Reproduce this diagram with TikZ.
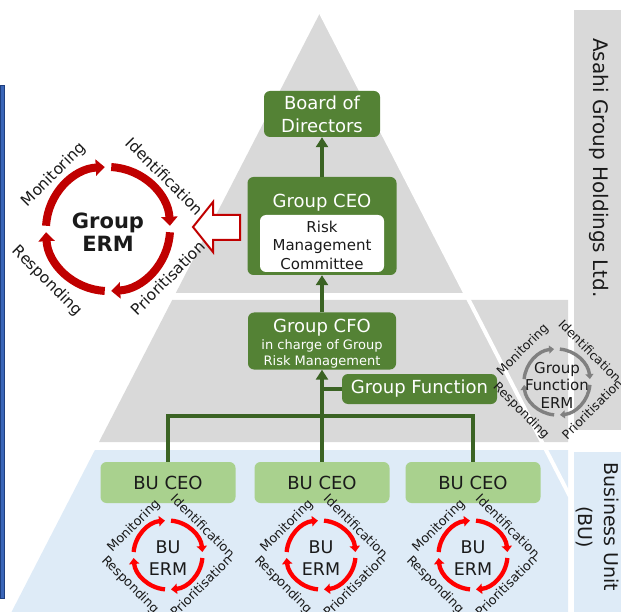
\documentclass[tikz,border=0pt]{standalone}
\usepackage{fontspec}
\setmainfont{DejaVu Sans}
\usetikzlibrary{arrows.meta}
\definecolor{dgreen}{HTML}{548235}
\definecolor{lgreen}{HTML}{A9D18E}
\definecolor{lgray}{HTML}{D9D9D9}
\definecolor{lblue}{HTML}{DEEBF7}
\definecolor{conn}{HTML}{3B6324}
\definecolor{ermred}{HTML}{C00000}
\definecolor{bured}{HTML}{FF0000}
\definecolor{fgray}{HTML}{808080}
\definecolor{edgeblue}{HTML}{1F3F7F}
\definecolor{midblue}{HTML}{3A66B8}
\definecolor{txt}{HTML}{1A1A1A}
\newcommand{\myfs}[2]{\fontsize{#1}{#2}\selectfont}
\newcommand{\ermarcs}[4]{%
  \foreach \a in {0,90,180,270}{%
    \draw[#4] #1 ++(\a+180+#3:#2) arc[start angle=\a+180+#3, end angle=\a+270-#3, radius=#2];
  }}
\begin{document}
\begin{tikzpicture}[x=1pt,y=-1pt,
  dbox/.style={fill=dgreen, rounded corners=6pt, text=white, align=center, inner sep=0pt, font=\myfs{18}{23}},
  lbox/.style={fill=lgreen, rounded corners=6pt, text=txt, align=center, inner sep=0pt, font=\myfs{18}{23}, minimum width=135pt, minimum height=41pt},
  wlab/.style={text=white, inner sep=0pt, align=center},
  connarrow/.style={draw=conn, line width=3.8pt, -{Triangle[length=10pt,width=12pt]}},
  connline/.style={draw=conn, line width=3.6pt},
  biglab/.style={text=txt, inner sep=0pt, font=\myfs{15.5}{18}},
  smalllab/.style={text=txt, inner sep=0pt, font=\myfs{12.8}{15}},
  fnlab/.style={text=txt, inner sep=0pt, font=\myfs{12.5}{15}},
  grouparc/.style={draw=ermred, line width=8pt, -{Triangle[length=9pt,width=16pt]}},
  buarc/.style={draw=bured, line width=4.3pt, -{Triangle[length=6pt,width=10pt]}},
  fnarc/.style={draw=fgray, line width=3.4pt, -{Triangle[length=5pt,width=8pt]}}
]
\useasboundingbox (0,0) rectangle (621,612);
% pyramid layers
\fill[lgray] (320.5,12) -- (465.2,293) -- (175.8,293) -- cycle;
\fill[lgray] (172.2,300) -- (568,300) -- (568,442) -- (99,442) -- cycle;
\fill[lblue] (94.9,450) -- (568,450) -- (568,612) -- (11.5,612) -- cycle;
\draw[white, line width=4pt] (320.5,12) -- (570,496.5);
% side bars
\fill[lgray] (574,10) rectangle (621,430);
\fill[lblue] (574,452) rectangle (621,612);
\node[rotate=-90, text=txt, inner sep=0pt, font=\myfs{20}{24}] (asahi) at (599,168) {Asahi Group Holdings Ltd.};
\node[rotate=-90, text=txt, inner sep=0pt, align=center, font=\myfs{19}{26}] (bulabel) at (597,527) {Business Unit\\(BU)};
% left edge bar
\draw[draw=edgeblue, fill=midblue, line width=1pt] (0.5,86) rectangle (4.5,598);
% boxes
\node[dbox, minimum width=116pt, minimum height=46pt] (board) at (322,114) {Board of\\Directors};
\node[dbox, minimum width=149pt, minimum height=98pt] (ceo) at (322,226) {};
\node[wlab, anchor=base, font=\myfs{18}{23}] (ceot) at (322,208) {Group CEO};
\node[fill=white, rounded corners=6pt, minimum width=124pt, minimum height=57pt, inner sep=0pt] (rmcbox) at (322,243.5) {};
\node[text=txt, inner sep=0pt, align=center, font=\myfs{15}{18.5}] (rmc) at (322,245) {Risk\\Management\\Committee};
\node[dbox, minimum width=148pt, minimum height=57pt] (cfo) at (322,341) {};
\node[wlab, anchor=base, font=\myfs{18}{23}] (cfot) at (322,332) {Group CFO};
\node[wlab, anchor=base, font=\myfs{13}{16}] (cfos1) at (322,349) {in charge of Group};
\node[wlab, anchor=base, font=\myfs{13}{16}] (cfos2) at (322,365) {Risk Management};
\node[dbox, minimum width=155pt, minimum height=30pt] (gf) at (419.5,389) {Group Function};
\node[lbox] (bu1) at (168,482.5) {BU CEO};
\node[lbox] (bu2) at (322,482.5) {BU CEO};
\node[lbox] (bu3) at (473,482.5) {BU CEO};
% connectors
\coordinate (bus) at (322,416);
\draw[connarrow] (ceo.north) -- (board.south);
\draw[connarrow] (cfo.north) -- (ceo.south);
\draw[connarrow] (bus) -- (cfo.south);
\draw[connline] (gf.west) -- (gf.west -| bus);
\draw[connline] (bu1.north) |- (bus) -| (bu3.north);
\draw[connline] (bus) -- (bu2.north);
% Group ERM
\coordinate (germ) at (108,229);
\ermarcs{(germ)}{62}{3}{grouparc}
\node[text=txt, inner sep=0pt, align=center, font=\bfseries\myfs{21}{23}] (germt) at (108,232) {Group\\ERM};
\node[biglab, rotate=45] (gm) at (54,175) {Monitoring};
\node[biglab, rotate=-45] (gi) at (165,176) {Identification};
\node[biglab, rotate=-45] (gr) at (47,281) {Responding};
\node[biglab, rotate=45] (gp) at (168,278) {Prioritisation};
\draw[draw=ermred, fill=white, line width=2pt, line join=miter] (193,227) -- (213,202) -- (213,215) -- (240,215) -- (240,240) -- (213,240) -- (213,252) -- cycle;
% Group Function ERM
\coordinate (ferm) at (557,382);
\ermarcs{(ferm)}{33}{5}{fnarc}
\node[text=txt, inner sep=0pt, align=center, font=\myfs{15}{17.5}] (fermt) at (557,385) {Group\\Function\\ERM};
\node[fnlab, rotate=45] (fm) at (523,350) {Monitoring};
\node[fnlab, rotate=-45] (fi) at (590,351) {Identification};
\node[fnlab, rotate=-45] (fr) at (521,411) {Responding};
\node[fnlab, rotate=45] (fp) at (592,409) {Prioritisation};
% BU ERMs
\foreach \cx/\nm in {168/a,321/b,473/c}{
  \coordinate (berm\nm) at (\cx,555);
  \ermarcs{(berm\nm)}{34.5}{5}{buarc}
  \node[text=txt, inner sep=0pt, align=center, font=\myfs{17.5}{22}] (bermt\nm) at (\cx,558) {BU\\ERM};
  \node[smalllab, rotate=45] (bm\nm) at (\cx-34,526) {Monitoring};
  \node[smalllab, rotate=-45] (bi\nm) at (\cx+35,526) {Identification};
  \node[smalllab, rotate=-45] (br\nm) at (\cx-38,585) {Responding};
  \node[smalllab, rotate=45] (bp\nm) at (\cx+33,586) {Prioritisation};
}
\end{tikzpicture}
\end{document}
